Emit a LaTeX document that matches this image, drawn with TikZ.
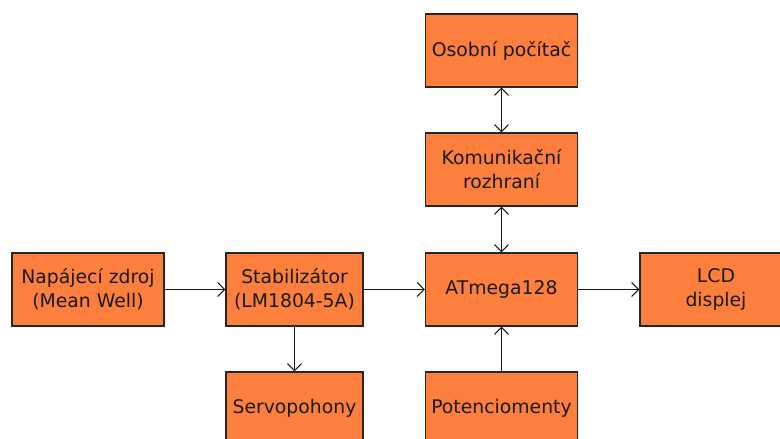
\documentclass[tikz,border=0pt]{standalone}
\usepackage{fontspec}
\setmainfont{DejaVu Sans}
\usetikzlibrary{arrows.meta}
\definecolor{boxfill}{RGB}{253,127,62}
\begin{document}
\begin{tikzpicture}[x=1pt,y=-1pt,
  block/.style={draw=black!85, line width=1.4pt, fill=boxfill, minimum width=152pt, minimum height=73pt,
    align=center, inner sep=0pt, font=\fontsize{18.8}{24}\selectfont, text=black!90},
  narrowblock/.style={block, minimum width=137pt},
  link/.style={draw=black!90, line width=1.4pt, -{Straight Barb[length=7pt,width=14pt,line width=1pt]}},
  duplex/.style={link, {Straight Barb[length=7pt,width=14pt,line width=1pt]}-{Straight Barb[length=7pt,width=14pt,line width=1pt]}}]
\useasboundingbox (0,0) rectangle (780,439);
% blocks of the system
\node[block] (psu) at (88,289.5) {Napájecí zdroj\\(Mean Well)};
\node[narrowblock] (stab) at (294.5,289.5) {Stabilizátor\\(LM1804-5A)};
\node[narrowblock] (servo) at (294.5,408.5) {Servopohony};
\node[block] (mcu) at (501.5,289.5) {ATmega128};
\node[block] (lcd) at (716,289.5) {LCD\\displej};
\node[block] (pot) at (501.5,408.5) {Potenciomenty};
\node[block] (pc) at (501.5,50.5) {Osobní počítač};
\node[block] (comm) at (501.5,169.5) {Komunikační\\rozhraní};
% connections
\draw[link] (psu) -- (stab);
\draw[link] (stab) -- (mcu);
\draw[link] (mcu) -- (lcd);
\draw[link] (stab) -- (servo);
\draw[link] (pot) -- (mcu);
\draw[duplex] (mcu) -- (comm);
\draw[duplex] (comm) -- (pc);
\end{tikzpicture}
\end{document}
